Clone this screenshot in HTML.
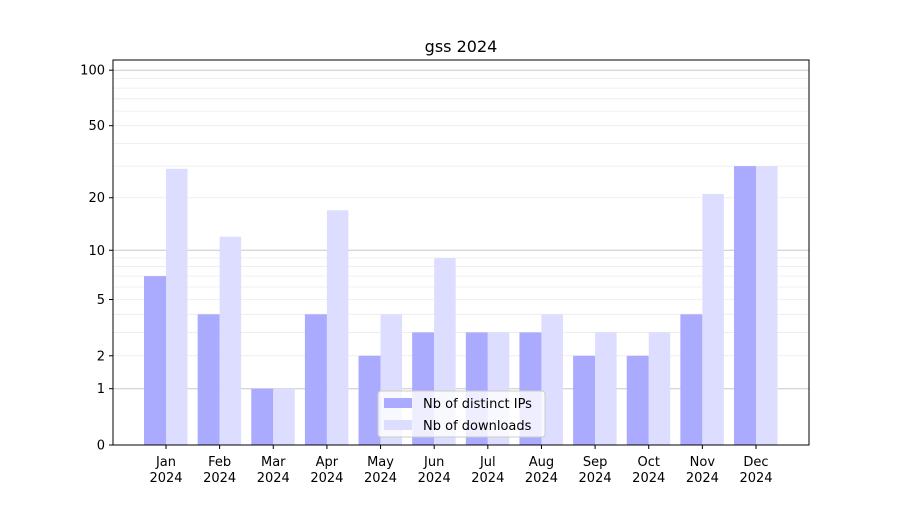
<!DOCTYPE html>
<html><head><meta charset="utf-8"><style>
body{margin:0;background:#fff;font-family:"Liberation Sans","DejaVu Sans",sans-serif}
svg text{font-family:"DejaVu Sans","Liberation Sans",sans-serif;font-size:13px;fill:#000}
</style></head><body>
<svg id="chart" width="900" height="500" xmlns="http://www.w3.org/2000/svg">
<rect width="900" height="500" fill="#fff"/>
<g id="grid"></g><g id="bars"></g><g id="axes"></g>
</svg>
<script>
const categories=["Jan","Feb","Mar","Apr","May","Jun","Jul","Aug","Sep","Oct","Nov","Dec"];
const yearLabel="2024";
const ips=[7,4,1,4,2,3,3,3,2,2,4,30];
const downloads=[29,12,1,17,4,9,3,4,3,3,21,30];
const yTicks=[0,1,2,5,10,20,50,100];
const NS="http://www.w3.org/2000/svg";
const L=113,R=809,T=60,B=445;
function y(v){return B-Math.log10(1+v)*187;}
const step=(756-166)/11;
function xc(i){return 166+i*step;}
function mk(tag,attrs,parent){const e=document.createElementNS(NS,tag);for(const k in attrs)e.setAttribute(k,attrs[k]);parent.appendChild(e);return e;}
const grid=document.getElementById('grid'),bars=document.getElementById('bars'),axes=document.getElementById('axes');
const minor=[2,3,4,5,6,7,8,9,20,30,40,50,60,70,80,90];
minor.forEach(v=>{const l=mk('line',{x1:L,x2:R,y1:y(v),y2:y(v),stroke:'#ebebeb','stroke-width':0.8},grid);

});
[1,10,100].forEach(v=>{const l=mk('line',{x1:L,x2:R,y1:y(v),y2:y(v),stroke:'#c8c8c8','stroke-width':1},grid);

});
categories.forEach((c,i)=>{
 const a=mk('rect',{x:xc(i)-22,y:y(ips[i]),width:22,height:B-y(ips[i]),fill:'#aaaaff'},bars);
 
 
 const b=mk('rect',{x:xc(i),y:y(downloads[i]),width:21.5,height:B-y(downloads[i]),fill:'#ddddff'},bars);
 
 
 mk('line',{x1:xc(i),x2:xc(i),y1:B,y2:B+4,stroke:'#000'},axes);
 const t=mk('text',{x:xc(i),y:B+21,'text-anchor':'middle'},axes);t.textContent=c;
 
 
 const t2=mk('text',{x:xc(i),y:B+37,'text-anchor':'middle'},axes);t2.textContent=yearLabel;
 
 
});
yTicks.forEach(v=>{mk('line',{x1:L-4,x2:L,y1:y(v),y2:y(v),stroke:'#000'},axes);
 const t=mk('text',{x:L-8,y:y(v)+4.5,'text-anchor':'end'},axes);t.textContent=v;
 
 });
const fr=mk('rect',{x:L,y:T,width:R-L,height:B-T,fill:'none',stroke:'#000','stroke-width':1},axes);


const ti=mk('text',{x:(L+R)/2,y:52,'text-anchor':'middle',style:'font-size:16px'},axes);ti.textContent='gss 2024';


const lg=mk('g',{},axes);


mk('rect',{x:378,y:391,width:167,height:46,rx:3,fill:'#fff','fill-opacity':0.8,stroke:'#ccc'},lg);
mk('rect',{x:384,y:398,width:28,height:10,fill:'#aaaaff'},lg);
mk('rect',{x:384,y:420,width:28,height:10,fill:'#ddddff'},lg);
const l1=mk('text',{x:423,y:408},lg);l1.textContent='Nb of distinct IPs';


const l2=mk('text',{x:423,y:430},lg);l2.textContent='Nb of downloads';


</script>
</body></html>
